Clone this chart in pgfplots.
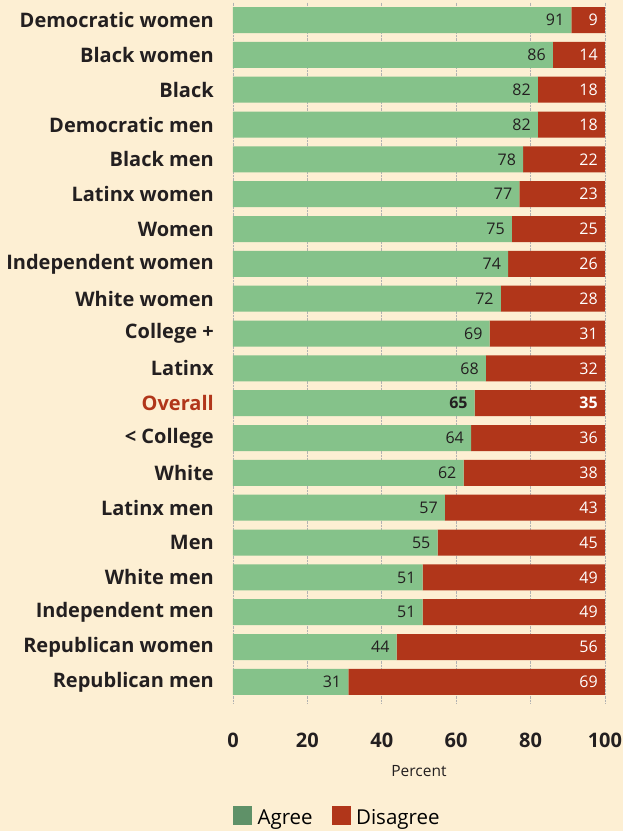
\documentclass[border=0pt]{standalone}
\usepackage{fontspec}
\setmainfont{Open Sans}
\usepackage{pgfplots}
\usepackage{pgfplotstable}
\pgfplotsset{compat=1.18}
\usetikzlibrary{backgrounds}

\definecolor{bgc}{HTML}{FDEFD3}
\definecolor{agreec}{HTML}{85C28A}
\definecolor{agreeleg}{HTML}{5F9168}
\definecolor{disagreec}{HTML}{B1361A}
\definecolor{txt}{HTML}{231F20}

% highlighted category label and bold value labels (kept unexpandable)
\protected\def\overalllabel{\textcolor{disagreec}{Overall}}
\protected\def\bnum#1{\textbf{#1}}

% row, agree, disagree, printed labels
\pgfplotstableread{
row agree disagree alab dlab
0  91 9  91 9
1  86 14 86 14
2  82 18 82 18
3  82 18 82 18
4  78 22 78 22
5  77 23 77 23
6  75 25 75 25
7  74 26 74 26
8  72 28 72 28
9  69 31 69 31
10 68 32 68 32
11 65 35 \bnum{65} \bnum{35}
12 64 36 64 36
13 62 38 62 38
14 57 43 57 43
15 55 45 55 45
16 51 49 51 49
17 51 49 51 49
18 44 56 44 56
19 31 69 31 69
}\datatable

% shared geometry of the bar axis and the label overlay
\pgfplotsset{
  frame/.style={
    x=3.72pt, y=34.84pt, y dir=reverse,
    xmin=0, xmax=100, ymin=-0.5, ymax=19.6,
    clip=false,
  },
  vallab/.style={
    every node near coord/.append style={anchor=east, inner sep=0pt,
      xshift=-7pt, font=\fontsize{16}{18}\selectfont, color=#1},
  },
}

\begin{document}
\begin{tikzpicture}
\begin{axis}[
  frame,
  xbar stacked,
  bar width=26pt,
  axis line style={draw=none},
  major tick length=0pt,
  xtick={0,20,...,100},
  xmajorgrids,
  grid style={densely dotted, black!30, line width=0.6pt},
  ytick={0,...,19},
  yticklabels={Democratic women, Black women, Black, Democratic men, Black men,
    Latinx women, Women, Independent women, White women, College +, Latinx,
    \overalllabel, < College, White, Latinx men, Men,
    White men, Independent men, Republican women, Republican men},
  yticklabel style={font=\fontsize{20}{22}\selectfont\bfseries, color=txt,
    anchor=east, inner sep=0pt, xshift=-19pt},
  xticklabel style={font=\fontsize{20}{24}\selectfont\bfseries, color=txt,
    anchor=north, inner sep=0pt, yshift=-30pt},
  /pgf/number format/assume math mode=true,
  xlabel={Percent},
  xlabel style={font=\fontsize{15.5}{18}\selectfont, color=txt,
    at={(axis description cs:0.5,-0.0972)}, anchor=center},
  legend style={draw=none, fill=none, legend columns=2,
    at={(axis description cs:0,-0.1615)}, anchor=west, inner sep=0pt,
    nodes={inner sep=0pt},
    font=\fontsize{20.5}{24}\selectfont,
    /tikz/every odd column/.append style={column sep=6pt},
    /tikz/every even column/.append style={column sep=19pt}},
]
\addplot[fill=agreec, draw=none, forget plot]
  table[x=agree, y=row] {\datatable};
\addplot[fill=disagreec, draw=none, forget plot]
  table[x=disagree, y=row] {\datatable};
\addlegendimage{legend image code/.code={\fill[agreeleg] (0pt,-6pt) rectangle (18pt,12pt);}}
\addlegendentry{Agree}
\addlegendimage{legend image code/.code={\fill[disagreec] (0pt,-6pt) rectangle (18pt,12pt);}}
\addlegendentry{Disagree}
\coordinate (bl) at (axis cs:-62.63,23.28);
\coordinate (tr) at (axis cs:104.84,-0.574);
\end{axis}
% value labels at the right end of each segment
\begin{axis}[frame, hide axis, point meta=explicit symbolic, nodes near coords]
\addplot[draw=none, vallab=txt]
  table[x=agree, y=row, meta=alab] {\datatable};
\addplot[draw=none, vallab=white]
  table[x expr=\thisrow{agree}+\thisrow{disagree}, y=row, meta=dlab] {\datatable};
\end{axis}
\begin{scope}[on background layer]
  \fill[bgc] (bl) rectangle (tr);
\end{scope}
\pgfresetboundingbox
\path[use as bounding box] (bl) rectangle (tr);
\end{tikzpicture}
\end{document}
